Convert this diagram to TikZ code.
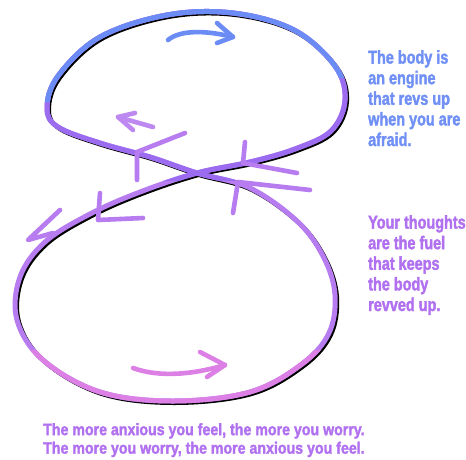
\documentclass[tikz,border=0pt]{standalone}
\usepackage{fontspec}
\newfontfamily\impA{Liberation Sans}[UprightFont=* Bold, FakeStretch=0.78, FakeBold=1.8]
\newfontfamily\impB{Liberation Sans}[UprightFont=* Bold, FakeStretch=0.86, FakeBold=1.8]
\definecolor{cblue}{HTML}{6C8CF5}
\definecolor{cviolet}{HTML}{9C6CF0}
\definecolor{clilac}{HTML}{B67CF0}
\definecolor{cpink}{HTML}{DC80E6}
\definecolor{tblue}{HTML}{7090F5}
\definecolor{tpurp}{HTML}{B070F0}
\tikzset{
  loopline/.style={line width=5pt, line cap=round, line join=round},
  shadowline/.style={line width=4.4pt, black, line cap=round, line join=round},
  stroke/.style={line width=4.6pt, line cap=round, line join=round},
  txt/.style={font=\impA\fontsize{18.5}{20.6}\selectfont, align=left, anchor=north west, inner sep=0pt},
}
\def\eight{plot[smooth cycle, tension=0.6] coordinates {(197,173) (250,162) (295,149) (331,131) (345,100) (335,66) (294,30) (233,13) (167,15) (100,37) (58,76) (47,108) (58,127) (100,143) (150,157) (197,173) (250,188) (298,222) (324,258) (335,295) (329,333) (302,364) (250,392) (173,401) (100,392) (43,360) (17,320) (20,277) (45,242) (90,214) (140,192)}}
\begin{document}
\begin{tikzpicture}[x=1pt,y=-1pt]
\useasboundingbox (0,0) rectangle (466,459);
\fill[white] (0,0) rectangle (466,459);
% shadow
\draw[shadowline, shift={(1.8,1.8)}] \eight;
% colored
\draw[loopline, clilac] \eight;
\begin{scope}
  \clip (0,0) rectangle (466,180);
  \draw[loopline, cviolet] \eight;
\end{scope}
\begin{scope}
  \clip (0,0) -- (466,0) -- (466,68) -- (0,106) -- cycle;
  \draw[loopline, cblue] \eight;
\end{scope}
\begin{scope}
  \clip (0,350) rectangle (466,459);
  \draw[loopline, cpink] \eight;
\end{scope}
% direction arrows
\draw[stroke, cblue] (168,40) .. controls (180,30) and (205,30) .. (233,37);
\draw[stroke, cblue] (217,23) -- (233,37) -- (217,43);
\draw[stroke, clilac!90!white] (153,127) -- (118,117);
\draw[stroke, clilac!90!white] (135,113) -- (118,117) -- (133,130);
\draw[stroke, cpink] (133,368) .. controls (160,378) and (195,374) .. (225,365);
\draw[stroke, cpink] (200,352) -- (225,365) -- (207,377);
% chevrons on the crossing lines
\draw[stroke, clilac] (185,133) -- (137,152) -- (137,180);
\draw[stroke, clilac] (245,142) -- (243,163) -- (297,173);
\draw[stroke, clilac] (310,190) -- (238,182) -- (233,213);
\draw[stroke, clilac] (100,193) -- (98,220) -- (143,218);
\draw[stroke, clilac] (60,210) -- (28,240) -- (53,233);
% texts
\node[txt, text=tblue] (t1) at (368,50) {The body is\\an engine\\that revs up\\when you are\\afraid.};
\node[txt, text=tpurp] (t2) at (368,215) {Your thoughts\\are the fuel\\that keeps\\the body\\revved up.};
\node[font=\impB\fontsize{16.5}{18.5}\selectfont, text=tpurp, align=left, anchor=north west, inner sep=0pt] (t3) at (43,423) {The more anxious you feel, the more you worry.\\The more you worry, the more anxious you feel.};
\end{tikzpicture}
\end{document}
